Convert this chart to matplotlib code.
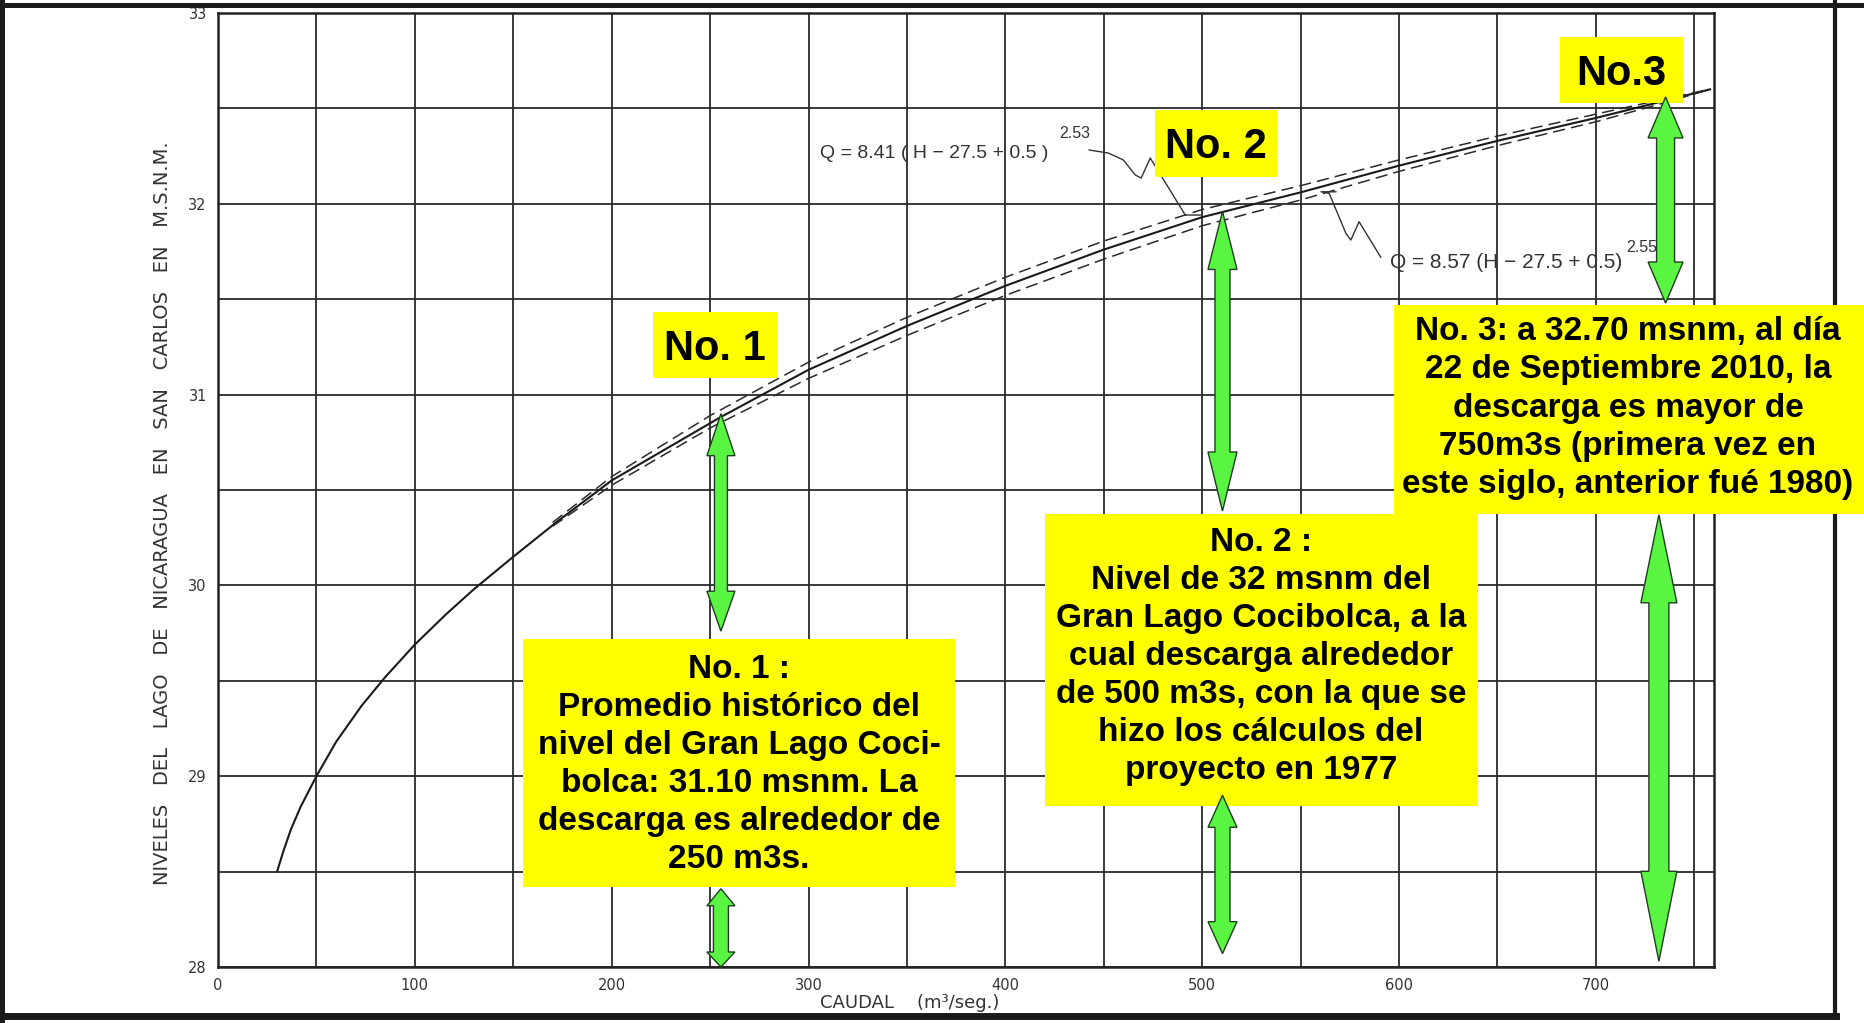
import numpy as np
import matplotlib
matplotlib.use("Agg")
import matplotlib.pyplot as plt
from matplotlib.patches import Polygon, Rectangle
from matplotlib.lines import Line2D
from matplotlib.transforms import IdentityTransform

# ---------------- data ----------------
caudal = [30, 33, 37, 42, 50, 60, 73, 85, 100, 116, 130, 150, 173, 200, 255,
          300, 350, 400, 450, 500, 550, 600, 650, 700, 735, 758]
nivel = [28.50, 28.60, 28.72, 28.84, 29.00, 29.18, 29.37, 29.52, 29.69, 29.85,
         29.98, 30.15, 30.34, 30.55, 30.88, 31.13, 31.36, 31.57, 31.76, 31.93,
         32.06, 32.20, 32.33, 32.45, 32.54, 32.60]

caudal_dash = [170, 200, 250, 300, 350, 400, 450, 500, 550, 600, 650, 700, 735, 758]
nivel_dash_upper = [30.33, 30.57, 30.89, 31.17, 31.405, 31.615, 31.805, 31.97,
                    32.095, 32.23, 32.355, 32.47, 32.55, 32.60]
nivel_dash_lower = [30.31, 30.525, 30.825, 31.085, 31.31, 31.52, 31.71, 31.885,
                    32.02, 32.17, 32.305, 32.43, 32.53, 32.60]

x_ticks = [0, 100, 200, 300, 400, 500, 600, 700]
x_tick_labels = ["0", "100", "200", "300", "400", "500", "600", "700"]
y_ticks = [28, 29, 30, 31, 32, 33]
y_tick_labels = ["28", "29", "30", "31", "32", "33"]

# double arrows: caudal, top level, bottom level
arrow_caudal = [255.5, 255.5, 510.3, 510.3, 735.4, 732.0]
arrow_top = [30.90, 28.41, 31.96, 28.90, 32.56, 30.37]
arrow_bottom = [29.76, 28.00, 30.39, 28.07, 31.48, 28.03]

# leader lines of the two formulas
leader1_q = [442.6, 452.3, 459.9, 466.0, 469.0, 473.6, 491.4, 499.0]
leader1_h = [32.282, 32.266, 32.23, 32.151, 32.135, 32.24, 31.941, 31.941]
leader2_q = [590.7, 579.7, 575.5, 573.0, 564.5, 560.3, 567.9]
leader2_h = [31.72, 31.906, 31.81, 31.845, 32.055, 32.063, 32.063]

formula1 = "Q = 8.41 ( H \u2212 27.5 + 0.5 )"
formula1_exp = "2.53"
formula2 = "Q = 8.57 (H \u2212 27.5 + 0.5)"
formula2_exp = "2.55"

y_label = ("NIVELES   DEL   LAGO   DE   NICARAGUA   EN   SAN   CARLOS   EN   M.S.N.M.")
x_label = "CAUDAL    (m\u00b3/seg.)"

tag1, tag2, tag3 = "No. 1", "No. 2", "No.3"
text1 = ["No. 1 :", "Promedio hist\u00f3rico del", "nivel del Gran Lago Coci-",
         "bolca: 31.10 msnm. La", "descarga es alrededor de", "250 m3s."]
text2 = ["No. 2 :", "Nivel de 32 msnm del", "Gran Lago Cocibolca, a la",
         "cual descarga alrededor", "de 500 m3s, con la que se",
         "hizo los c\u00e1lculos del", "proyecto en 1977"]
text3 = ["No. 3: a 32.70 msnm, al d\u00eda", "22 de Septiembre 2010, la",
         "descarga es mayor de", "750m3s (primera vez en",
         "este siglo, anterior fu\u00e9 1980)"]

# ---------------- figure ----------------
W, H = 1865, 1023
fig = plt.figure(figsize=(W / 100, H / 100), dpi=100)
fig.patch.set_facecolor("white")

def fxy(x, y):
    return x / W, 1 - y / H

ax = fig.add_axes([218 / W, 1 - 967 / H, (1714 - 218) / W, (967 - 13) / H])
ax.set_xlim(0, 760)
ax.set_ylim(28, 33)
ax.set_xticks(x_ticks)
ax.set_xticklabels(x_tick_labels)
ax.set_xticks(np.arange(50, 751, 100), minor=True)
ax.set_yticks(y_ticks)
ax.set_yticklabels(y_tick_labels)
ax.set_yticks(np.arange(28.5, 33, 1.0), minor=True)
ax.grid(True, which="both", color="#2a2a2a", lw=1.3)
ax.set_axisbelow(True)
ax.tick_params(which="both", length=0)
ax.tick_params(axis="x", pad=8, labelsize=10.5, labelcolor="#333333")
ax.tick_params(axis="y", pad=8, labelsize=10.5, labelcolor="#333333")
for lab in ax.get_xticklabels() + ax.get_yticklabels():
    lab.set_family("DejaVu Sans")
for sp in ax.spines.values():
    sp.set_linewidth(1.8)
    sp.set_color("#222222")

# curves
ax.plot(caudal, nivel, color="#1a1a1a", lw=1.5, zorder=3)
ax.plot(caudal_dash, nivel_dash_upper, color="#2a2a2a", lw=1.1,
        linestyle=(0, (8, 4)), zorder=3)
ax.plot(caudal_dash, nivel_dash_lower, color="#2a2a2a", lw=1.1,
        linestyle=(0, (8, 4)), zorder=3)

# leader lines
ax.plot(leader1_q, leader1_h, color="#333333", lw=1.0, zorder=3)
ax.plot(leader2_q, leader2_h, color="#333333", lw=1.0, zorder=3)

# formula labels
fig.text(*fxy(820, 153), formula1, ha="left", va="center", fontsize=14,
         color="#333333", family="Liberation Sans")
fig.text(*fxy(1059, 133), formula1_exp, ha="left", va="center", fontsize=11.5,
         color="#333333", family="Liberation Sans")
fig.text(*fxy(1390, 262), formula2, ha="left", va="center", fontsize=15,
         color="#333333", family="Liberation Sans")
fig.text(*fxy(1626, 247), formula2_exp, ha="left", va="center", fontsize=11.5,
         color="#333333", family="Liberation Sans")

# axis labels
fig.text(*fxy(163, 513), y_label, rotation=90, ha="center", va="center",
         fontsize=14, color="#333333", family="DejaVu Sans")
fig.text(*fxy(910, 1003), x_label, ha="center", va="center",
         fontsize=13, color="#333333", family="DejaVu Sans")

# frame of the scanned page
frame = [((2.5, 2.5), (0, 1023), 3.6), ((0, 1865), (4.5, 4.5), 3.6),
         ((0, 1836), (1015.5, 1015.5), 5.0), ((1835, 1835), (0, 1016), 3.0)]
for xs, ys, lw in frame:
    fig.add_artist(Line2D([x / W for x in xs], [1 - y / H for y in ys],
                          transform=fig.transFigure, color="#1a1a1a", lw=lw,
                          zorder=4))

# green double arrows
arrow_style = [(13, 28, 42, 40), (15, 28, 17, 15), (15, 29, 58, 59),
               (15, 29, 32, 32), (18, 35, 41, 41), (20, 36, 88, 90)]
fig.canvas.draw()
for q, ht, hb, (shaft, head_w, head_t, head_b) in zip(arrow_caudal, arrow_top,
                                                       arrow_bottom, arrow_style):
    x, yt = ax.transData.transform((q, ht))
    _, yb = ax.transData.transform((q, hb))
    s, hw = shaft / 2, head_w / 2
    pts = [(x, yt), (x + hw, yt - head_t), (x + s, yt - head_t),
           (x + s, yb + head_b), (x + hw, yb + head_b), (x, yb),
           (x - hw, yb + head_b), (x - s, yb + head_b), (x - s, yt - head_t),
           (x - hw, yt - head_t)]
    fig.add_artist(Polygon(pts, closed=True, transform=IdentityTransform(),
                           facecolor="#5af542", edgecolor="#1e3d1e", lw=1.0,
                           zorder=6))

# yellow boxes
def box(x0, y0, x1, y1):
    fig.add_artist(Rectangle((x0 / W, 1 - y1 / H), (x1 - x0) / W, (y1 - y0) / H,
                             transform=fig.transFigure, facecolor="#ffff00",
                             edgecolor="none", zorder=5))

def line_text(xc, yc, s, size):
    cap = 0.716 * size * 100 / 72
    fig.text(xc / W, 1 - (yc + cap / 2) / H, s, ha="center", va="baseline",
             fontsize=size, family="Liberation Sans", weight="bold",
             color="black", zorder=7)

box(653, 312, 777, 378)
line_text(715, 345, tag1, 30)
box(1155, 110, 1278, 177)
line_text(1216, 143, tag2, 30)
box(1560, 37, 1683, 103)
line_text(1621, 70, tag3, 30)

box(523, 639, 955, 887)
for i, s in enumerate(text1):
    line_text(739, 666 + 38 * i, s, 24)
box(1045, 514, 1478, 806)
for i, s in enumerate(text2):
    line_text(1261, 539 + 38 * i, s, 24)
box(1394, 305, 1865, 514)
for i, s in enumerate(text3):
    line_text(1628, 328 + 38.3 * i, s, 24)

fig.savefig("out.png", dpi=100, facecolor="white")
